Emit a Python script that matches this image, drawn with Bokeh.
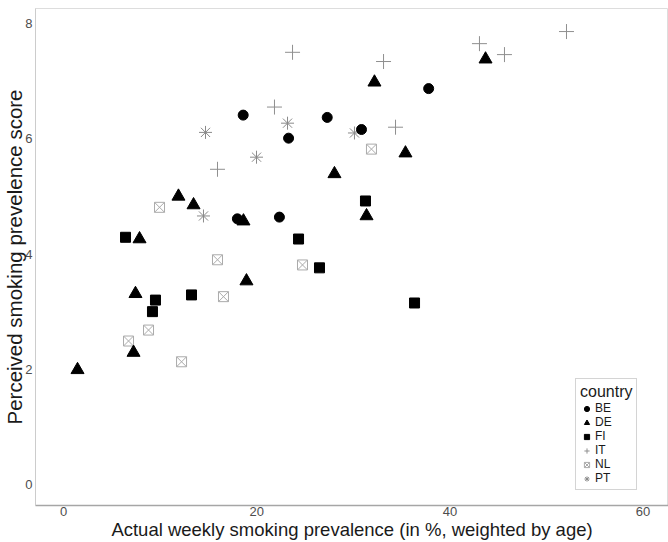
from bokeh.plotting import figure
from bokeh.models import Range1d, FixedTicker, Legend, LegendItem
from bokeh.embed import file_html
from bokeh.resources import INLINE

# ---------------- data ----------------
countries = ["BE", "DE", "FI", "IT", "NL", "PT"]

BE_x = [18.6, 27.3, 23.3, 30.85, 37.8, 22.35, 18.0]
BE_y = [6.41, 6.37, 6.01, 6.16, 6.87, 4.64, 4.61]

DE_x = [1.45, 7.25, 7.45, 7.87, 11.9, 13.46, 18.94, 18.63, 28.05, 32.19, 35.4, 31.37, 43.69]
DE_y = [1.99, 2.29, 3.31, 4.26, 5.0, 4.85, 3.53, 4.57, 5.39, 6.98, 5.75, 4.66, 7.38]

FI_x = [6.42, 9.52, 9.21, 13.25, 24.33, 31.26, 26.5, 36.34]
FI_y = [4.29, 3.2, 3.0, 3.29, 4.26, 4.92, 3.76, 3.15]

IT_x = [15.94, 23.71, 21.84, 33.13, 34.37, 43.06, 45.65, 52.07]
IT_y = [5.47, 7.5, 6.55, 7.34, 6.2, 7.65, 7.46, 7.86]

NL_x = [9.94, 15.94, 16.56, 8.8, 6.73, 12.22, 31.88, 24.74]
NL_y = [4.81, 3.9, 3.26, 2.68, 2.49, 2.13, 5.82, 3.81]

PT_x = [14.7, 19.98, 14.49, 23.19, 30.12]
PT_y = [6.11, 5.68, 4.66, 6.27, 6.1]

x_ticks = [0, 20, 40, 60]
y_ticks = [0, 2, 4, 6, 8]

x_title = "Actual weekly smoking prevalence (in %, weighted by age)"
y_title = "Perceived smoking prevelence score"
legend_title = "country"

FONT = "Liberation Sans"

p = figure(width=668, height=542, output_backend="svg", toolbar_location=None,
           title=None,
           x_range=Range1d(-2.90, 62.63), y_range=Range1d(-0.364, 8.26),
           min_border_left=0, min_border_right=0, min_border_top=8,
           min_border_bottom=0)

p.background_fill_color = "white"
p.border_fill_color = "white"
p.outline_line_color = "#dddddd"
p.xgrid.visible = False
p.ygrid.visible = False

p.xaxis.ticker = FixedTicker(ticks=x_ticks)
p.yaxis.ticker = FixedTicker(ticks=y_ticks)
for ax in (p.xaxis[0], p.yaxis[0]):
    ax.major_tick_in = 0
    ax.major_tick_out = 0
    ax.minor_tick_line_color = None
    ax.major_label_text_font = FONT
    ax.major_label_text_font_size = "13px"
    ax.major_label_text_color = "#4d4d4d"
    ax.axis_label_text_font = FONT
    ax.axis_label_text_font_style = "normal"
    ax.axis_label_text_color = "#1a1a1a"

p.xaxis.axis_label = x_title
p.xaxis.axis_label_text_font_size = "18.5px"
p.xaxis.major_label_standoff = 1
p.xaxis.axis_label_standoff = 0
p.xaxis.axis_line_color = "#a6a6a6"
p.xaxis.axis_line_width = 1.5

p.yaxis.axis_label = y_title
p.yaxis.axis_label_text_font_size = "20.5px"
p.yaxis.major_label_standoff = 3
p.yaxis.axis_label_standoff = -4
p.yaxis.axis_line_color = "#cccccc"
p.yaxis.axis_line_width = 1

styles = {
    "BE": dict(marker="circle", size=10, fill_color="black", line_color="black"),
    "DE": dict(marker="triangle", size=13, fill_color="black", line_color="black"),
    "FI": dict(marker="square", size=10, fill_color="black", line_color="black"),
    "IT": dict(marker="cross", size=15, fill_color=None, line_color="#8f8f8f", line_width=1),
    "NL": dict(marker="square_x", size=10, fill_color=None, line_color="#ababab", line_width=1),
    "PT": dict(marker="asterisk", size=13, fill_color=None, line_color="#8a8a8a", line_width=1),
}
data = {"BE": (BE_x, BE_y), "DE": (DE_x, DE_y), "FI": (FI_x, FI_y),
        "IT": (IT_x, IT_y), "NL": (NL_x, NL_y), "PT": (PT_x, PT_y)}

renderers = {}
for c in ["NL", "PT", "IT", "FI", "DE", "BE"]:
    xs, ys = data[c]
    renderers[c] = p.scatter(xs, ys, **styles[c])

legend = Legend(items=[LegendItem(label=c, renderers=[renderers[c]]) for c in countries],
                location=(540, 15), title=legend_title,
                title_text_font=FONT, title_text_font_size="16px",
                title_text_font_style="normal", title_text_color="#1a1a1a",
                title_standoff=0,
                label_text_font=FONT, label_text_font_size="12px",
                label_text_color="#1a1a1a",
                glyph_width=13, glyph_height=13, label_height=12,
                spacing=0, label_standoff=2, padding=4, margin=0,
                border_line_color="#aaaaaa", background_fill_color="white")
p.add_layout(legend)

open("out.html", "w").write(file_html(p, INLINE))
